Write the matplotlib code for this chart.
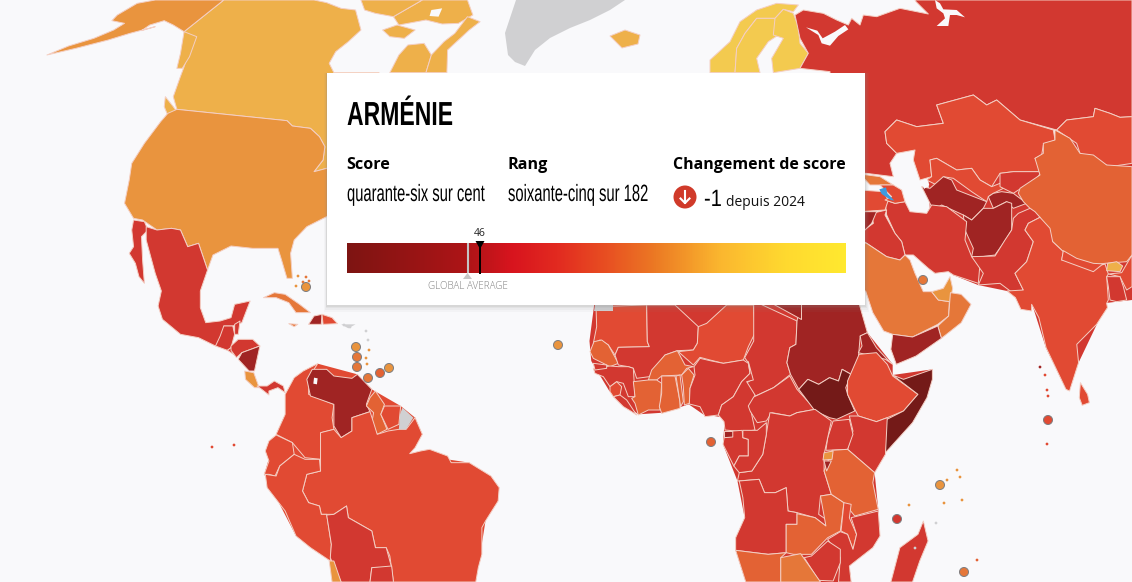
import numpy as np
import matplotlib
matplotlib.use("Agg")
import matplotlib.pyplot as plt
import matplotlib.patches as patch
from matplotlib.colors import BoundaryNorm, ListedColormap, LinearSegmentedColormap
from matplotlib.text import Text
from matplotlib.textpath import TextPath
from matplotlib.transforms import Affine2D, Bbox

# bands of the map legend
score_bounds = [0, 12, 20, 33, 39, 46, 60, 70, 78, 100]
band_colors = ["#741a18", "#a02423", "#d23830", "#e14a33", "#e36234", "#e57739", "#e9943e", "#eeb04a", "#f3ca4f"]
bar_stops = [0.0, 0.24, 0.33, 0.42, 0.52, 0.62, 0.75, 0.88, 1.0]
bar_colors = ["#7e1512", "#ae1417", "#d8141e", "#e22a20", "#e84f22", "#ec7a24", "#fbb72f", "#ffd92f", "#ffe930"]

country_name = "ARMÉNIE"
score_words = "quarante-six sur cent"
rank_words = "soixante-cinq sur 182"
armenia_score = 46
global_average = 42
score_change = "-1"
since_label = "depuis 2024"

scores = {
    "canada": 75, "baffin": 75, "arctic": 75, "arctic2": 75, "quebec": 75, "labrador": 75, "iceland": 77,
    "panhandle": 75, "vancouver": 75, "alaska": 65, "usa": 65,
    "mexico": 27, "baja": 27, "guatemala": 28, "belize": 30, "honduras": 22, "salvador": 30, "nicaragua": 14,
    "costa_rica": 62, "panama": 32, "colombia": 37, "venezuela": 13, "guyana": 40, "suriname": 38,
    "brazil": 35, "ecuador": 34, "peru": 33, "bolivia": 28, "paraguay": 24, "chile": 63,
    "cuba": 50, "haiti": 16, "dominican": 36, "jamaica": 50,
    "norway": 81, "sweden": 80, "finland": 88, "russia": 22,
    "kazakhstan": 38, "uzbekistan": 34, "turkmenistan": 17, "kyrgyzstan": 25, "tajikistan": 19, "afghanistan": 17,
    "mongolia": 33, "china": 43, "iran": 23, "iraq": 26, "turkey": 34, "georgia": 50, "azerbaijan": 33, "syria": 13,
    "saudi": 57, "uae": 68, "oman": 55, "yemen": 13, "pakistan": 27, "nepal": 34, "india": 38, "ne_india": 38,
    "bangladesh": 23, "bhutan": 72, "sri_lanka": 34,
    "mauritania": 33, "senegal": 45, "mali": 27, "niger": 34, "chad": 21, "burkina": 41, "guinea": 28, "sierra": 33,
    "liberia": 27, "bissau": 21, "ivory": 45, "ghana": 42, "togo": 40, "benin": 45, "nigeria": 26, "cameroon": 26,
    "car": 24, "sudan": 15, "libya": 13, "eritrea": 13, "south_sudan": 8, "ethiopia": 37, "somalia": 9, "kenya": 32,
    "uganda": 26, "drc": 20.5, "eq_guinea": 13, "gabon": 27, "congo": 22, "angola": 32, "zambia": 39, "tanzania": 41,
    "rwanda": 64, "burundi": 17, "malawi": 34, "mozambique": 25, "zimbabwe": 21, "namibia": 45, "botswana": 57,
    "madagascar": 26,
}

# island states too small to see on the map, (x, y) of the marker and score
island_names = ["bahamas", "dominica", "st_lucia", "st_vincent", "grenada", "barbados", "trinidad", "cabo_verde",
                "sao_tome", "seychelles", "maldives", "comoros", "mauritius", "bahrain"]
island_scores = [64, 60, 55, 58, 56, 65, 42, 62, 45, 68, 38, 27, 50, 53]
island_x = [306, 356, 357, 357, 368, 389, 380, 558, 711, 940, 1048, 897, 964, 923]
island_y = [287, 347, 357, 367, 378, 368, 373, 345, 442, 485, 420, 519, 572, 280]

# crops the outlines were traced on, (left, top, x scale, y scale)
Z2 = (0, 0, 1568 / 566, 3)
Z3 = (0, 291, 1568 / 566, 3)
Z4 = (566, 291, 1568 / 566, 3)
Z5 = (780, 0, 3, 3)
Z6 = (660, 0, 3, 3)
Z7 = (960, 130, 3, 3)
Z8 = (860, 160, 3, 3)
Z9 = (590, 300, 3, 3)
PX = (0, 0, 1, 1)


def tr(z, pts):
    return [(z[0] + x / z[2], z[1] + y / z[3]) for x, y in pts]


# land under the countries, so that no gap shows between traced outlines
underlay = [
    (2, tr(Z4, [(78, 42), (810, 42), (835, 125), (905, 220), (905, 252), (1015, 235), (1000, 320), (885, 485), (855, 545), (865, 655), (870, 735), (785, 825), (790, 873), (498, 873), (470, 778), (495, 680), (475, 570), (435, 460), (440, 380), (380, 370), (340, 340), (270, 365), (200, 370), (120, 300), (70, 210), (65, 150)])),
    (3, tr(Z3, [(790, 310), (880, 218), (990, 250), (1030, 295), (1110, 345), (1150, 380), (1170, 430), (1135, 488), (1300, 515), (1383, 590), (1345, 690), (1318, 873), (920, 873), (915, 810), (820, 735), (732, 550), (765, 430), (790, 370)])),
    (2, tr(PX, [(927, 150), (1132, 130), (1132, 300), (1106, 303), (1097, 324), (1066, 389), (1046, 348), (1032, 304), (1007, 291), (978, 285), (953, 275), (930, 213)])),
]

outlines = {
    "canada": tr(Z2, [(620, 0), (870, 0), (905, 8), (945, 25), (985, 30), (1000, 90), (965, 125), (930, 155), (912, 190), (925, 218), (1050, 218), (1050, 520), (905, 505), (870, 515), (895, 480), (900, 440), (885, 410), (860, 385), (810, 378), (795, 362), (490, 328), (480, 290), (498, 235), (510, 200), (525, 150), (510, 95)]),
    "alaska": tr(Z2, [(430, 0), (620, 0), (510, 95), (480, 75), (455, 62), (415, 75), (392, 92), (430, 80), (360, 100), (300, 120), (210, 145), (130, 165), (190, 138), (260, 115), (315, 90), (345, 70), (310, 62), (325, 45), (380, 10)]),
    "panhandle": tr(Z2, [(510, 95), (545, 110), (525, 170), (505, 205), (490, 205), (500, 160)]),
    "vancouver": tr(Z2, [(458, 290), (480, 320), (490, 335), (470, 360), (455, 320)]),
    "baffin": tr(Z2, [(1170, 0), (1295, 0), (1310, 45), (1270, 70), (1225, 72), (1180, 60), (1105, 75), (1090, 50), (1130, 25)]),
    "arctic": tr(Z2, [(1000, 0), (1170, 0), (1130, 25), (1090, 50), (1040, 40), (1010, 30)]),
    "arctic2": tr(Z2, [(1060, 90), (1100, 75), (1150, 90), (1120, 115), (1080, 110)]),
    "quebec": tr(Z2, [(1080, 218), (1105, 165), (1130, 135), (1175, 130), (1195, 165), (1180, 218)]),
    "labrador": tr(Z2, [(1180, 218), (1238, 218), (1240, 150), (1265, 125), (1300, 90), (1330, 65), (1295, 50), (1260, 100), (1230, 125), (1195, 165)]),
    "iceland": tr(PX, [(610, 36), (625, 30), (640, 35), (638, 44), (622, 48)]),
    "usa": tr(Z2, [(490, 328), (795, 362), (810, 378), (860, 385), (885, 410), (900, 440), (895, 480), (870, 515), (905, 505), (1050, 505), (1050, 650), (905, 650), (850, 680), (815, 720), (805, 760), (810, 835), (795, 835), (780, 780), (770, 745), (700, 745), (640, 738), (590, 765), (575, 810), (550, 730), (520, 740), (500, 690), (475, 685), (435, 690), (395, 660), (370, 655), (345, 610), (358, 540), (365, 490), (400, 430), (445, 365), (465, 340)]),
    "baja": tr(Z2, [(370, 660), (400, 665), (410, 690), (392, 710), (395, 780), (400, 850), (385, 830), (375, 790), (358, 760), (370, 740), (365, 690)]),
    "mexico": tr(Z2, [(405, 680), (435, 690), (475, 685), (500, 690), (520, 740), (550, 730), (575, 810), (555, 873)]) + tr(Z3, [(555, 50), (570, 95), (610, 90), (640, 80), (650, 40), (693, 30), (670, 95), (645, 105), (620, 105), (625, 135), (597, 165), (550, 140), (500, 130), (450, 85), (438, 45), (447, 0)]) + tr(Z2, [(430, 820), (420, 780), (405, 720)]),
    "guatemala": tr(Z3, [(620, 105), (645, 105), (650, 130), (640, 170), (630, 178), (597, 165), (610, 135)]),
    "belize": tr(Z3, [(650, 100), (665, 90), (660, 130), (650, 130)]),
    "salvador": tr(Z3, [(630, 178), (650, 192), (640, 170)]),
    "honduras": tr(Z3, [(640, 165), (660, 145), (700, 145), (720, 165), (670, 185), (655, 200), (640, 178)]),
    "nicaragua": tr(Z3, [(660, 205), (670, 185), (720, 165), (705, 240), (690, 240)]),
    "costa_rica": tr(Z3, [(678, 240), (703, 245), (718, 290), (705, 290), (680, 265)]),
    "panama": tr(Z3, [(712, 285), (740, 285), (760, 270), (785, 285), (790, 305), (770, 290), (745, 300), (745, 312), (725, 295)]),
    "colombia": tr(Z3, [(790, 310), (815, 260), (840, 240), (880, 218), (855, 260), (855, 310), (925, 340), (920, 380), (925, 415), (890, 425), (888, 505), (845, 500), (810, 455), (765, 430), (790, 370)]),
    "venezuela": tr(Z3, [(865, 235), (905, 235), (925, 255), (975, 262), (990, 250), (1030, 295), (1015, 340), (1025, 362), (975, 380), (975, 420), (945, 440), (925, 405), (925, 340), (860, 315), (850, 265)]),
    "guyana": tr(Z3, [(1040, 300), (1065, 340), (1055, 370), (1072, 415), (1045, 430), (1030, 395), (1035, 365), (1015, 345), (1025, 320)]),
    "suriname": tr(Z3, [(1065, 345), (1110, 345), (1105, 400), (1075, 415), (1055, 370)]),
    "brazil": tr(Z3, [(925, 415), (945, 440), (975, 420), (975, 380), (1025, 362), (1035, 395), (1045, 430), (1075, 420), (1105, 415), (1125, 415), (1150, 380), (1170, 430), (1150, 470), (1135, 488), (1165, 480), (1190, 475), (1240, 495), (1250, 515), (1300, 515), (1360, 555), (1383, 590), (1380, 630), (1345, 690), (1335, 710), (1335, 790), (1325, 830), (1318, 873), (1090, 873), (1080, 795), (1070, 770), (1040, 770), (1030, 720), (965, 680), (960, 645), (925, 670), (890, 670), (885, 645), (855, 635), (838, 600), (850, 550), (888, 540), (888, 425)]),
    "ecuador": tr(Z3, [(765, 432), (810, 455), (815, 490), (775, 525), (762, 555), (745, 550), (732, 550), (745, 510), (735, 480), (745, 450)]),
    "peru": tr(Z3, [(735, 550), (765, 555), (775, 525), (815, 490), (845, 505), (885, 505), (888, 540), (850, 550), (838, 600), (855, 635), (885, 645), (890, 670), (905, 670), (918, 760), (915, 810), (860, 770), (820, 735), (790, 660), (740, 590)]),
    "bolivia": tr(Z3, [(905, 672), (925, 670), (960, 645), (965, 680), (1030, 720), (1040, 770), (1070, 770), (1085, 830), (1030, 830), (1025, 873), (945, 873), (915, 800), (918, 760)]),
    "paraguay": tr(Z3, [(1030, 830), (1085, 825), (1090, 873), (1025, 873)]),
    "chile": tr(Z3, [(912, 810), (925, 810), (945, 873), (920, 873)]),
    "cuba": tr(Z3, [(730, 20), (760, 5), (790, 10), (830, 40), (860, 65), (820, 65), (800, 35), (765, 20)]),
    "haiti": tr(Z3, [(855, 100), (870, 75), (892, 70), (890, 100), (870, 100)]),
    "dominican": tr(Z3, [(892, 70), (920, 80), (935, 98), (895, 100)]),
    "jamaica": tr(Z3, [(800, 98), (825, 100), (815, 107)]),
    "norway": tr(Z6, [(150, 218), (150, 180), (210, 125), (240, 65), (290, 30), (350, 10), (415, 15), (400, 35), (370, 28), (345, 55), (290, 55), (255, 100), (230, 145), (225, 218)]),
    "sweden": tr(Z6, [(230, 145), (255, 100), (290, 55), (345, 55), (355, 105), (325, 125), (290, 175), (300, 218), (225, 218)]),
    "finland": tr(Z6, [(345, 55), (370, 28), (400, 40), (415, 80), (420, 130), (445, 160), (420, 205), (340, 218), (335, 175), (370, 115), (340, 105)]),
    "russia": tr(Z5, [(45, 45), (70, 30), (130, 40), (170, 60), (205, 75), (215, 55), (240, 75), (250, 45), (290, 50), (360, 25), (445, 42), (408, 5), (405, 0), (1056, 0), (1056, 350), (1020, 352), (990, 340), (945, 325), (940, 350), (860, 360), (830, 390), (720, 360), (650, 300), (620, 315), (580, 285), (470, 315), (490, 370), (410, 380), (350, 360), (315, 395), (320, 430), (350, 460), (330, 490), (340, 530), (258, 520), (150, 520), (150, 215), (60, 205), (85, 160), (60, 115)]),
    "kazakhstan": tr(Z5, [(315, 395), (350, 360), (410, 380), (490, 370), (470, 315), (580, 285), (620, 315), (650, 300), (720, 360), (820, 390), (825, 420), (790, 435), (785, 465), (765, 475), (785, 515), (700, 515), (660, 520), (635, 560), (600, 540), (575, 505), (530, 510), (470, 475), (450, 480), (455, 530), (420, 540), (400, 480), (405, 450), (350, 460), (320, 430)]),
    "uzbekistan": tr(Z5, [(450, 480), (470, 475), (530, 510), (575, 505), (600, 540), (635, 560), (660, 550), (670, 565), (640, 580), (625, 590), (620, 605), (575, 575), (520, 535), (490, 530), (480, 560), (440, 540), (455, 530)]),
    "turkmenistan": tr(Z5, [(425, 560), (450, 565), (490, 530), (515, 540), (530, 570), (620, 605), (610, 625), (575, 660), (550, 645), (485, 615), (460, 630), (440, 590)]),
    "kyrgyzstan": tr(Z5, [(660, 520), (700, 515), (785, 515), (755, 555), (715, 570), (700, 580), (660, 560)]),
    "tajikistan": tr(Z5, [(640, 580), (665, 575), (700, 580), (740, 610), (700, 625), (680, 605), (640, 625), (625, 590)]),
    "afghanistan": tr(Z5, [(575, 660), (610, 625), (640, 625), (680, 605), (695, 610), (695, 690), (670, 730), (645, 765), (590, 772), (575, 770), (580, 745), (555, 690), (550, 645)]),
    "mongolia": tr(Z5, [(830, 390), (860, 360), (940, 350), (945, 325), (990, 340), (1020, 352), (1056, 350), (1056, 490), (990, 500), (900, 460), (890, 430)]),
    "china": tr(Z7, [(285, 0), (330, 25), (360, 70), (400, 75), (440, 105), (516, 110), (516, 375), (500, 395), (435, 400), (400, 405), (350, 395), (310, 365), (278, 335), (240, 262), (210, 235), (190, 215), (175, 190), (180, 175), (240, 135), (225, 85), (250, 70), (250, 40), (285, 30)]),
    "iran": tr(Z8, [(75, 120), (105, 130), (135, 125), (150, 155), (200, 160), (215, 135), (260, 140), (320, 185), (315, 240), (335, 290), (360, 310), (355, 370), (280, 345), (265, 335), (225, 340), (205, 325), (160, 285), (135, 285), (125, 245), (105, 220), (80, 165)]),
    "iraq": tr(Z8, [(35, 160), (80, 150), (75, 165), (105, 220), (125, 245), (135, 285), (120, 300), (80, 290), (20, 250), (5, 240), (5, 215), (40, 190)]),
    "turkey": tr(Z8, [(0, 90), (70, 95), (85, 120), (75, 150), (0, 155)]),
    "georgia": tr(Z8, [(0, 42), (60, 50), (100, 75), (60, 75), (30, 75)]),
    "azerbaijan": tr(Z8, [(60, 75), (100, 75), (125, 90), (135, 125), (105, 130), (75, 120), (95, 110)]),
    "syria": tr(Z8, [(0, 155), (50, 155), (35, 190), (0, 225)]),
    "saudi": tr(Z8, [(0, 245), (20, 250), (80, 290), (120, 300), (135, 285), (150, 300), (165, 340), (190, 395), (215, 395), (235, 420), (268, 425)]) + tr(Z4, [(1060, 75), (1030, 100), (960, 138), (905, 130), (880, 120), (850, 65), (830, 0)]) + tr(Z8, [(0, 393)]),
    "uae": tr(Z8, [(215, 395), (250, 385), (270, 350), (278, 385), (270, 425), (235, 420)]),
    "oman": tr(Z4, [(1065, 5), (1095, 10), (1122, 40), (1095, 95), (1040, 142), (1030, 105), (1060, 75)]),
    "yemen": tr(Z4, [(905, 130), (960, 138), (1030, 105), (1040, 142), (970, 195), (915, 220), (900, 175)]),
    "pakistan": tr(Z7, [(35, 380), (105, 378), (135, 330), (155, 300), (160, 265), (175, 250), (210, 235), (225, 245), (240, 262), (205, 280), (195, 300), (220, 335), (200, 395), (165, 430), (190, 480), (160, 490), (120, 460), (55, 465), (70, 430)]),
    "india": tr(Z7, [(195, 300), (205, 280), (240, 262), (270, 295), (278, 335), (310, 365), (305, 390), (400, 405), (435, 402), (445, 432), (440, 440), (445, 510), (440, 520)]) + tr(Z4, [(1500, 50), (1470, 100), (1415, 160), (1420, 215), (1395, 300), (1385, 295), (1330, 170), (1310, 80), (1290, 40), (1290, 60), (1260, 55), (1245, 20), (1222, 0)]) + tr(Z7, [(190, 480), (165, 430), (200, 395), (220, 335)]),
    "ne_india": tr(Z7, [(445, 432), (485, 428), (516, 375), (516, 470), (500, 480), (480, 440)]),
    "nepal": tr(Z7, [(310, 362), (350, 385), (400, 400), (435, 402), (425, 405), (400, 425), (305, 390)]),
    "bangladesh": tr(Z7, [(440, 440), (480, 440), (490, 470), (500, 510), (470, 515), (450, 510), (445, 470)]),
    "bhutan": tr(Z7, [(443, 400), (470, 395), (488, 408), (480, 425), (440, 422)]),
    "sri_lanka": tr(Z4, [(1425, 275), (1445, 310), (1450, 335), (1430, 343), (1422, 320)]),
    "mauritania": tr(Z9, [(18, 20), (170, 15), (172, 125), (178, 140), (85, 142), (75, 165), (55, 135), (30, 120), (10, 130), (20, 80)]),
    "senegal": tr(Z9, [(0, 155), (12, 125), (35, 120), (55, 135), (85, 190), (60, 200), (10, 175)]),
    "mali": tr(Z9, [(170, 15), (255, 15), (325, 80), (322, 130), (310, 150), (262, 152), (225, 165), (178, 230), (140, 235), (130, 205), (115, 200), (85, 195), (75, 165), (85, 142), (178, 140), (172, 125)]),
    "niger": tr(Z9, [(325, 80), (350, 70), (410, 15), (490, 15), (497, 95), (475, 140), (460, 180), (430, 185), (400, 190), (360, 180), (330, 172), (310, 195), (265, 155), (310, 150), (322, 130)]),
    "chad": tr(Z4, [(520, 30), (640, 90), (637, 160), (620, 170), (612, 215), (622, 250), (575, 290), (525, 315), (495, 280), (515, 265), (505, 215), (495, 200), (520, 150)]),
    "burkina": tr(Z9, [(262, 152), (285, 195), (310, 200), (290, 205), (275, 225), (215, 228), (200, 240), (175, 240), (185, 210), (225, 165)]),
    "guinea": tr(Z9, [(10, 205), (60, 198), (85, 200), (115, 200), (130, 205), (135, 290), (115, 290), (100, 250), (80, 245), (60, 260), (40, 230), (15, 220)]),
    "sierra": tr(Z9, [(60, 260), (80, 245), (95, 260), (90, 285), (70, 290), (60, 275)]),
    "liberia": tr(Z9, [(70, 290), (90, 285), (110, 300), (140, 345), (125, 335), (100, 320)]),
    "bissau": tr(Z9, [(10, 190), (50, 195), (50, 205), (15, 210)]),
    "ivory": tr(Z9, [(130, 245), (175, 240), (200, 240), (215, 250), (210, 330), (175, 330), (145, 345), (135, 310), (125, 295), (135, 290)]),
    "ghana": tr(Z9, [(215, 228), (255, 228), (270, 305), (270, 325), (215, 340), (208, 320), (215, 280)]),
    "togo": tr(Z9, [(258, 228), (270, 225), (280, 305), (272, 320)]),
    "benin": tr(Z9, [(275, 225), (295, 205), (312, 225), (300, 265), (298, 310), (283, 315), (280, 260)]),
    "nigeria": tr(Z9, [(312, 200), (330, 175), (360, 182), (400, 190), (430, 185), (460, 180), (475, 190), (480, 220), (455, 245), (430, 290), (395, 315), (385, 345), (345, 350), (330, 320), (298, 312), (300, 265), (315, 225)]),
    "cameroon": tr(Z9, [(475, 185), (490, 240), (470, 245), (495, 285), (480, 320), (495, 390), (460, 395), (405, 390), (402, 365), (385, 345), (395, 315), (430, 290), (455, 245), (480, 220)]),
    "car": tr(Z4, [(505, 345), (520, 318), (575, 290), (620, 255), (640, 295), (690, 355), (640, 365), (620, 375), (570, 365), (555, 390), (530, 395), (510, 360)]),
    "sudan": tr(Z4, [(650, 30), (810, 30), (835, 125), (815, 135), (810, 200), (790, 250), (765, 235), (755, 270), (730, 260), (700, 280), (670, 265), (645, 295), (622, 250), (612, 215), (620, 170), (637, 160), (640, 90)]),
    "libya": tr(Z4, [(560, 30), (650, 30), (650, 85)]),
    "eritrea": tr(Z4, [(815, 135), (835, 125), (860, 170), (890, 205), (905, 220), (885, 205), (810, 185), (820, 165)]),
    "south_sudan": tr(Z4, [(645, 295), (670, 265), (700, 280), (730, 260), (755, 270), (765, 235), (790, 250), (775, 290), (780, 310), (800, 360), (750, 385), (730, 380), (690, 360)]),
    "ethiopia": tr(Z4, [(812, 190), (860, 185), (890, 220), (905, 255), (975, 310), (935, 360), (890, 380), (860, 392), (810, 375), (800, 355), (780, 310), (780, 270), (800, 220)]),
    "somalia": tr(Z4, [(905, 252), (935, 265), (1015, 235), (1015, 265), (1000, 320), (960, 395), (885, 485), (880, 390), (935, 360), (975, 310)]),
    "kenya": tr(Z4, [(785, 375), (810, 375), (860, 392), (890, 380), (885, 490), (855, 545), (780, 475), (795, 420)]),
    "uganda": tr(Z4, [(740, 390), (785, 385), (795, 430), (780, 475), (720, 478), (725, 440)]),
    "drc": tr(Z4, [(565, 365), (620, 375), (640, 365), (690, 355), (735, 390), (725, 440), (715, 490), (715, 540), (735, 610), (705, 615), (700, 670), (720, 685), (720, 705), (690, 680), (640, 665), (615, 660), (610, 590), (580, 605), (550, 605), (535, 565), (475, 570), (480, 545), (515, 540), (545, 490), (555, 430), (560, 395)]),
    "eq_guinea": tr(Z4, [(438, 420), (462, 420), (462, 438), (438, 438)]),
    "gabon": tr(Z4, [(438, 440), (462, 438), (462, 420), (488, 418), (490, 440), (505, 445), (505, 495), (480, 495), (465, 525), (435, 460)]),
    "congo": tr(Z4, [(490, 418), (530, 418), (555, 395), (555, 430), (545, 490), (515, 540), (480, 545), (465, 525), (480, 495), (505, 495), (505, 445), (490, 440)]),
    "angola": tr(Z4, [(480, 570), (535, 565), (550, 605), (580, 605), (610, 590), (615, 660), (640, 665), (640, 700), (610, 700), (610, 785), (560, 790), (470, 778), (470, 740), (495, 680), (490, 620)]),
    "zambia": tr(Z4, [(640, 668), (690, 680), (720, 705), (705, 615), (735, 610), (770, 635), (760, 720), (725, 740), (680, 790), (630, 790), (610, 785), (610, 700), (640, 700)]),
    "tanzania": tr(Z4, [(780, 475), (855, 545), (850, 575), (865, 655), (800, 675), (770, 635), (735, 610), (715, 540), (737, 478)]),
    "rwanda": tr(Z4, [(715, 485), (740, 480), (737, 505), (712, 507)]),
    "burundi": tr(Z4, [(715, 510), (735, 510), (722, 540)]),
    "malawi": tr(Z4, [(770, 635), (790, 640), (785, 680), (805, 730), (795, 775), (780, 730), (762, 720)]),
    "mozambique": tr(Z4, [(790, 680), (865, 660), (870, 735), (850, 770), (785, 825), (790, 873), (755, 873), (760, 800), (725, 745), (760, 722), (780, 730), (795, 775), (805, 730)]),
    "zimbabwe": tr(Z4, [(680, 795), (725, 750), (760, 775), (760, 815), (740, 870), (700, 868), (660, 800)]),
    "namibia": tr(Z4, [(470, 778), (560, 790), (610, 785), (595, 800), (595, 873), (498, 873)]),
    "botswana": tr(Z4, [(595, 800), (650, 788), (705, 873), (595, 873)]),
    "madagascar": tr(Z4, [(990, 690), (1003, 750), (980, 810), (960, 873), (900, 873), (925, 770), (975, 730)]),
}

# no data countries
no_data = [
    tr(PX, [(516, 0), (625, 0), (610, 10), (590, 20), (570, 28), (550, 38), (535, 50), (525, 66), (515, 62), (508, 55), (505, 33)]),
    tr(Z3, [(1115, 350), (1145, 380), (1125, 415), (1105, 415), (1108, 370)]),
    tr(Z3, [(945, 100), (985, 100), (965, 112)]),
    tr(Z4, [(80, 42), (130, 42), (130, 60), (78, 60)]),
]
# seas and lakes cut out of the land
water = [
    tr(Z5, [(78, 82), (112, 92), (128, 115), (165, 95), (195, 75), (205, 88), (175, 108), (150, 137), (125, 130), (115, 105)]),
    tr(Z5, [(465, 0), (480, 10), (490, 28), (530, 30), (555, 52), (530, 45), (510, 45), (505, 78), (470, 78), (495, 55), (490, 40), (470, 25)]),
    tr(Z5, [(425, 540), (440, 537), (448, 555), (432, 567)]),
    tr(Z3, [(870, 260), (880, 262), (878, 280), (868, 278)]),
    tr(Z2, [(1195, 30), (1225, 25), (1215, 50), (1190, 48)]),
]
armenia = tr(Z8, [(58, 88), (78, 82), (82, 100), (103, 122), (92, 120), (65, 102)])
# specks of small islands, x, y, band index
speck_x = [344, 350, 366, 368, 369, 366, 367, 212, 234, 1045, 1047, 1048, 1047, 947, 957, 960, 962, 977, 944, 1040, 936, 915, 909, 306, 303, 309, 296, 298]
speck_y = [325, 327, 331, 340, 350, 358, 364, 447, 445, 375, 390, 396, 444, 480, 470, 477, 500, 560, 503, 367, 523, 548, 505, 277, 282, 281, 286, 276]
speck_band = [-1, -1, -1, -1, 6, 6, 6, 3, 3, 3, 3, 3, 3, 6, 6, 6, 6, 4, 6, 1, -1, -1, 6, 5, 5, 5, 6, 6]


class SqueezedText(Text):
    # Oswald is not installed: draw a plain face narrowed to the same width
    def __init__(self, *args, xscale=1.0, **kwargs):
        super().__init__(*args, **kwargs)
        self.xscale = xscale

    def _glyphs(self):
        size = self.get_fontsize() * self.figure.dpi / 72
        return TextPath((0, 0), self.get_text(), size=size, prop=self.get_fontproperties())

    def _get_layout(self, renderer):
        bbox, info, descent = super()._get_layout(renderer)
        return Bbox.from_bounds(bbox.x0, bbox.y0, bbox.width * self.xscale, bbox.height), info, descent

    def draw(self, renderer):
        x, y = self.get_transform().transform(self.get_position())
        gc = renderer.new_gc()
        gc.set_linewidth(0)
        rgba = matplotlib.colors.to_rgba(self.get_color())
        renderer.draw_path(gc, self._glyphs(), Affine2D().scale(self.xscale, 1).translate(x, y), rgba)
        gc.restore()

    def get_window_extent(self, renderer=None, dpi=None):
        x, y = self.get_transform().transform(self.get_position())
        box = self._glyphs().get_extents()
        return Bbox.from_extents(x + box.x0 * self.xscale, y + box.y0, x + box.x1 * self.xscale, y + box.y1)


cmap = ListedColormap(band_colors)
norm = BoundaryNorm(score_bounds, cmap.N)
land_edge = "#f4cfc4"
gray_land = "#d0d0d2"

fig = plt.figure(figsize=(11.32, 5.82), dpi=100, facecolor="#f9f9fb")
ax = fig.add_axes([0, 0, 1, 1])
ax.set_xlim(0, 1132)
ax.set_ylim(582, 0)
ax.axis("off")

for band, pts in underlay:
    ax.add_patch(patch.Polygon(pts, closed=True, facecolor=band_colors[band], edgecolor="none", zorder=1))
for name, pts in outlines.items():
    col = cmap(norm(scores[name]))
    ax.add_patch(patch.Polygon(pts, closed=True, facecolor=col, edgecolor=land_edge, linewidth=0.7, zorder=2, joinstyle="round"))
for pts in no_data:
    ax.add_patch(patch.Polygon(pts, closed=True, facecolor=gray_land, edgecolor="none", zorder=2))
for pts in water:
    ax.add_patch(patch.Polygon(pts, closed=True, facecolor="#f9f9fb", edgecolor="none", zorder=3))
ax.add_patch(patch.Polygon(armenia, closed=True, facecolor="#3d9be0", edgecolor="none", zorder=4))

# tiny islands
speck_cols = [gray_land if b < 0 else band_colors[b] for b in speck_band]
ax.scatter(speck_x, speck_y, s=4, c=speck_cols, linewidths=0, zorder=3)
ax.scatter(island_x, island_y, s=42, c=[cmap(norm(v)) for v in island_scores], edgecolors="#7d7d80", linewidths=0.7, zorder=5)

# popup with its shadow
px0, py0, px1, py1 = 327, 73, 865, 305
for grow, alpha in zip([7, 5, 3, 1.5], [0.05, 0.07, 0.09, 0.12]):
    ax.add_patch(patch.Rectangle((px0 - grow / 2, py0), px1 - px0 + grow, py1 - py0 + grow, facecolor="#888888", edgecolor="none", alpha=alpha, zorder=9))
ax.add_patch(patch.Rectangle((px0, py0), px1 - px0, py1 - py0, facecolor="white", edgecolor="none", zorder=10))

narrow = "Liberation Sans"
body = ["Open Sans", "DejaVu Sans"]


def squeezed(x, y, s, size, xscale, weight="normal"):
    t = SqueezedText(x, y, s, xscale=xscale, family=narrow, fontweight=weight, fontsize=size, color="black", zorder=11)
    ax.add_artist(t)
    return t


squeezed(347, 125, country_name, 24, 0.69, weight="bold")
ax.text(346.2, 169, "Score", family=body, fontweight="bold", fontsize=11.6, zorder=11)
ax.text(507.2, 169, "Rang", family=body, fontweight="bold", fontsize=11.6, zorder=11)
ax.text(673, 169, "Changement de score", family=body, fontweight="bold", fontsize=11.5, zorder=11)
squeezed(347, 201, score_words, 17, 0.625)
squeezed(508, 201, rank_words, 17, 0.625)
squeezed(704, 206, score_change, 17, 0.85)
ax.text(726, 206, since_label, family=body, fontsize=10, color="#111111", zorder=11)

# arrow badge
ax.add_patch(patch.Circle((685, 197), 11.5, facecolor="#d03a2a", edgecolor="none", zorder=11))
ax.plot([685, 685], [191, 203], color="white", lw=1.5, zorder=12)
ax.plot([680.5, 685, 689.5], [198.5, 203, 198.5], color="white", lw=1.5, zorder=12)

# gradient bar
bar_cmap = LinearSegmentedColormap.from_list("bar", list(zip(bar_stops, bar_colors)))
ax.imshow(np.linspace(0, 1, 500).reshape(1, -1), cmap=bar_cmap, extent=(347, 846, 273, 243), aspect="auto", zorder=11)
ax.set_xlim(0, 1132)
ax.set_ylim(582, 0)


def bar_x(v):
    return 467.5 + (v - global_average) * 3.125


gx = bar_x(global_average)
ax_x = bar_x(armenia_score)
ax.plot([gx, gx], [243, 273], color="#c4c4c4", lw=1.5, zorder=12, solid_capstyle="butt")
ax.add_patch(patch.Polygon([(gx - 4.5, 279), (gx + 4.5, 279), (gx, 273)], facecolor="#c8c8c8", edgecolor="none", zorder=12))
ax.text(gx, 289, "GLOBAL AVERAGE", family="Open Sans", fontweight="light", fontsize=7.1, color="#808080", ha="center", zorder=12)
ax.plot([ax_x, ax_x], [243, 274], color="black", lw=1.4, zorder=12, solid_capstyle="butt")
ax.add_patch(patch.Polygon([(ax_x - 4.5, 241), (ax_x + 4.5, 241), (ax_x, 249)], facecolor="black", edgecolor="none", zorder=13))
ax.text(ax_x, 236, str(armenia_score), family=body, fontsize=7.5, color="#222222", ha="center", zorder=12)

fig.savefig("out.png", dpi=100, facecolor=fig.get_facecolor())
